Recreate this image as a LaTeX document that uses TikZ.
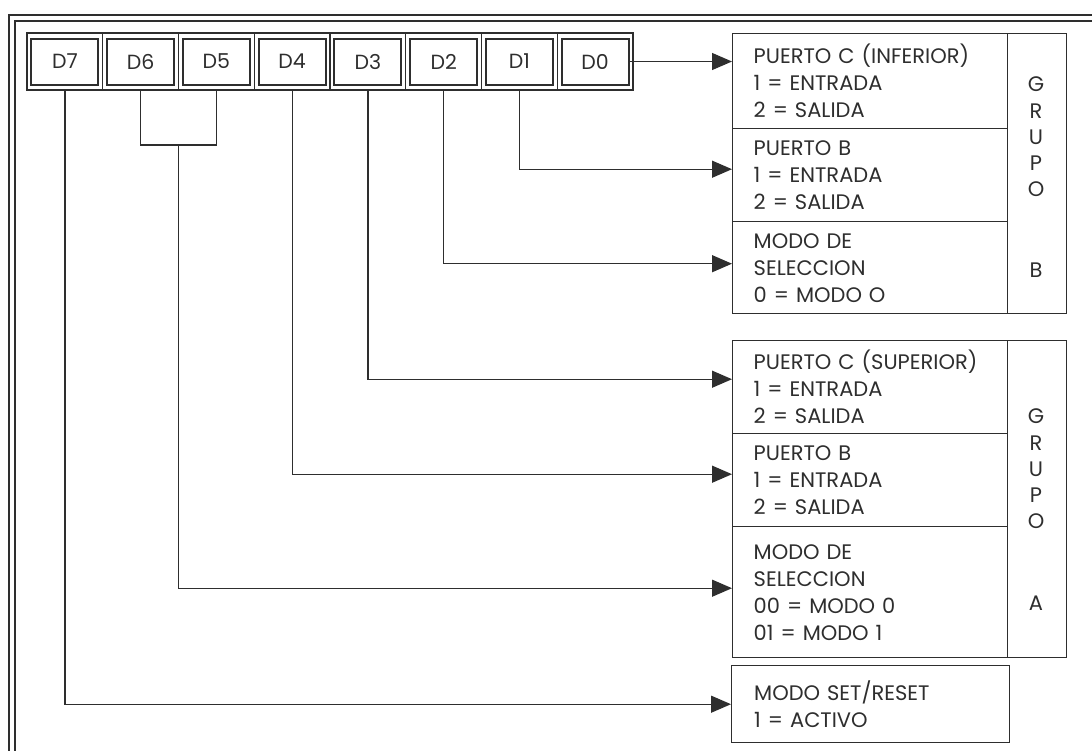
\documentclass[tikz,border=0pt]{standalone}
\usepackage{fontspec}
\setmainfont{Poppins}
\usepackage{xcolor}
\usepackage{tikz}
\usetikzlibrary{positioning, arrows.meta, calc}

\definecolor{ink}{gray}{0.18}

\tikzset{
  bit/.style={draw=ink, line width=2pt, minimum width=67pt,
              minimum height=46pt, inner sep=0pt, text=ink,
              font=\fontsize{20.5}{22}\selectfont},
  field/.style={draw=ink, line width=1.4pt, anchor=north west,
                minimum width=275pt, text width=233pt, inner xsep=21pt,
                align=left, text=ink, font=\fontsize{21}{27}\selectfont},
  grp/.style={draw=ink, line width=1.4pt, anchor=north west,
              minimum width=334pt, inner sep=0pt},
  tag/.style={align=center, inner sep=0pt, text=ink,
              font=\fontsize{21}{26.3}\selectfont},
  link/.style={draw=ink, line width=1.3pt},
  conn/.style={link, -{Triangle[length=20pt, width=17pt]}},
}

\begin{document}
\begin{tikzpicture}[x=1pt, y=-1pt]

  \useasboundingbox (0,0) rectangle (1092,750);
  \clip (0,0) rectangle (1092,750);

  %% ── Outer frame (double line) ─────────────────────────────
  \draw[draw=ink, line width=1.5pt] (9,15) rectangle (1110,770);
  \draw[draw=ink, line width=1.5pt] (15,21) rectangle (1110,770);

  %% ── Control word register ─────────────────────────────────
  \node[draw=ink, line width=1.8pt, minimum width=606pt,
        minimum height=57pt, inner sep=0pt] (reg) at (330,61.5) {};
  \foreach \b [count=\i from 0] in {7,6,5,4,3,2,1,0}
    \node[bit] (d\b) at (64.9+75.75*\i, 61.5) {D\b};
  \foreach \i in {1,...,7}
    \draw[link] (27+75.75*\i, 33) -- (27+75.75*\i, 90);

  %% ── Grupo B ───────────────────────────────────────────────
  \node[grp, minimum height=280pt] (grpB) at (732,33) {};
  \node[field, minimum height=95pt] (pcinf) at (732,33)
    {PUERTO~C~(INFERIOR)\\1 = ENTRADA\\2 = SALIDA};
  \node[field, minimum height=93pt] (pbB) at (732,128)
    {PUERTO B\\1 = ENTRADA\\2 = SALIDA};
  \node[field, minimum height=92pt] (modoB) at (732,221)
    {MODO DE\\SELECCION\\0 = MODO O};
  \node[tag] (grupoB) at (1036,137) {G\\R\\U\\P\\O};
  \node[tag] (letB) at (1036,270) {B};

  %% ── Grupo A ───────────────────────────────────────────────
  \node[grp, minimum height=317pt] (grpA) at (732,340) {};
  \node[field, minimum height=93pt] (pcsup) at (732,340)
    {PUERTO~C~(SUPERIOR)\\1 = ENTRADA\\2 = SALIDA};
  \node[field, minimum height=93pt] (pbA) at (732,433)
    {PUERTO B\\1 = ENTRADA\\2 = SALIDA};
  \node[field, minimum height=131pt] (modoA) at (732,526)
    {MODO DE\\SELECCION\\00 = MODO 0\\01 = MODO 1};
  \node[tag] (grupoA) at (1036,469) {G\\R\\U\\P\\O};
  \node[tag] (letA) at (1036,603) {A};

  %% ── Set/reset ─────────────────────────────────────────────
  \node[field, minimum width=278pt, minimum height=77pt] (setres)
    at (731,665) {MODO SET/RESET\\1 = ACTIVO};

  %% ── Connectors ────────────────────────────────────────────
  \draw[conn] (d0.east) -- (d0.east -| pcinf.west);
  \draw[conn] (d1.south |- reg.south) |- ([yshift=6pt]pbB.west);
  \draw[conn] (d2.south |- reg.south) |- ([yshift=4pt]modoB.west);
  \draw[conn] (d3.south |- reg.south) |- ([yshift=8pt]pcsup.west);
  \draw[conn] (d4.south |- reg.south) |- ([yshift=6pt]pbA.west);
  % D6/D5 joined
  \coordinate (br) at ($(d6)!0.5!(d5) + (0,83.5)$);
  \draw[link] (d6.south |- reg.south) |- (d5.south |- br)
    -- (d5.south |- reg.south);
  \draw[conn] (br) |- ([yshift=4pt]modoA.west);
  \draw[conn] (d7.south |- reg.south) |- (setres.west);

\end{tikzpicture}
\end{document}
